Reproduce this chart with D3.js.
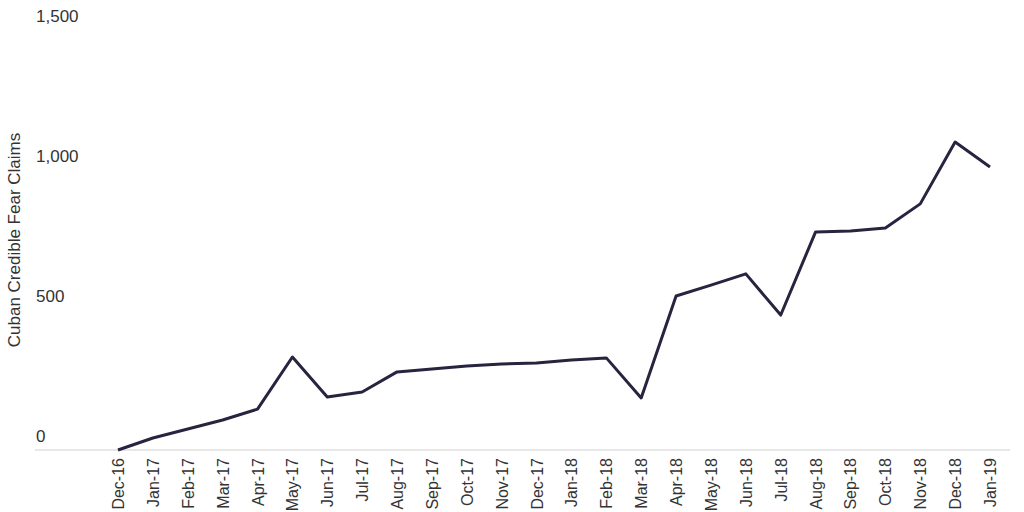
<!DOCTYPE html>
<html><head><meta charset="utf-8">
<script src="https://cdn.jsdelivr.net/npm/d3@7"></script>
<style>body{margin:0;background:#fff}svg{display:block}</style>
</head><body><svg id="c" width="1024" height="512"></svg>
<script>
const months=["Dec-16","Jan-17","Feb-17","Mar-17","Apr-17","May-17","Jun-17","Jul-17","Aug-17","Sep-17","Oct-17","Nov-17","Dec-17","Jan-18","Feb-18","Mar-18","Apr-18","May-18","Jun-18","Jul-18","Aug-18","Sep-18","Oct-18","Nov-18","Dec-18","Jan-19"];
const claims=[0,43,75,107,146,332,189,207,279,289,300,307,311,321,329,186,550,589,629,482,779,782,793,879,1100,1011];
const yTicks=[0,500,1000,1500];
const svg=d3.select("#c");
const font="'Liberation Sans', Arial, sans-serif";
const x=d3.scalePoint().domain(months).range([118,990]);
const y=d3.scaleLinear().domain([0,1500]).range([450,30]);
svg.append("line").attr("x1",35).attr("x2",1010).attr("y1",y(0)).attr("y2",y(0)).attr("stroke","#d0d0d0");
svg.selectAll(".yt").data(yTicks).enter().append("text")
 .attr("x",36).attr("y",d=>y(d)-8).attr("font-family",font).attr("font-size",17).attr("fill","#333")
 .text(d3.format(","));
svg.append("text").attr("transform","translate(20,240) rotate(-90)").attr("text-anchor","middle")
 .attr("font-family",font).attr("font-size",17).attr("fill","#333").text("Cuban Credible Fear Claims");
svg.selectAll(".xt").data(months).enter().append("text")
 .attr("transform",d=>`translate(${x(d)+6},458) rotate(-90)`).attr("text-anchor","end")
 .attr("font-family",font).attr("font-size",16).attr("fill","#333").text(d=>d);
svg.append("path").datum(claims).attr("fill","none").attr("stroke","#28233f").attr("stroke-width",3)
 .attr("stroke-linejoin","round")
 .attr("d",d3.line().x((d,i)=>x(months[i])).y(d=>y(d)));
</script></body></html>
